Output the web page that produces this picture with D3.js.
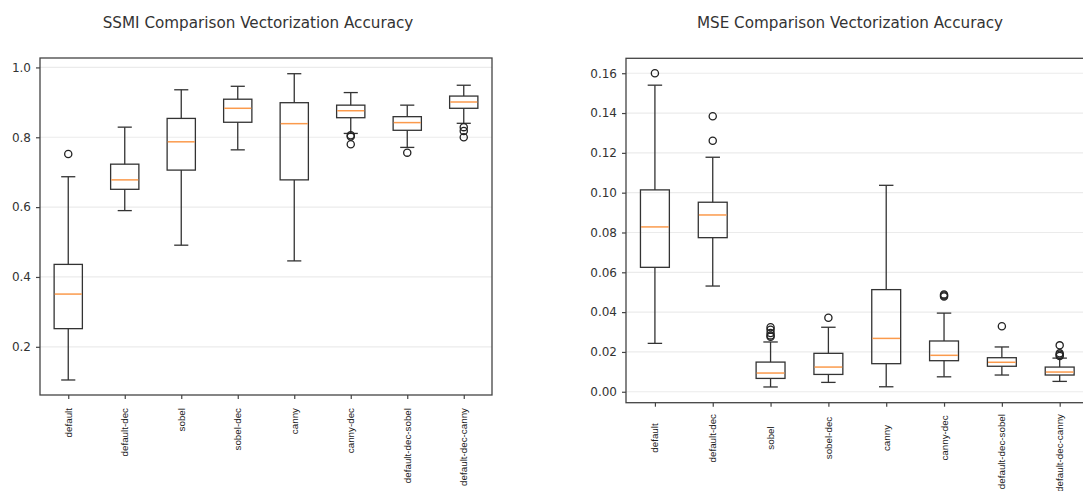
<!DOCTYPE html>
<html>
<head>
<meta charset="utf-8">
<script src="https://cdn.jsdelivr.net/npm/d3@7"></script>
<style>
  body { margin: 0; background: #fff; overflow: hidden; }
  svg { display: block; }
  .title { font-family: "DejaVu Sans", sans-serif; font-size: 15.2px; fill: #333; }
  .y-axis text { font-family: "DejaVu Sans", sans-serif; font-size: 12px; fill: #333; }
  .x-label { font-family: "Liberation Sans", Arial, sans-serif; font-size: 9.8px; fill: #222; }
</style>
</head>
<body>
<div id="chart"></div>
<script>
// Categories shared by both panels.
const categories = ['default', 'default-dec', 'sobel', 'sobel-dec', 'canny',
  'canny-dec', 'default-dec-sobel', 'default-dec-canny'];

// SSMI box stats.
const ssmiLow    = [0.105, 0.590, 0.491, 0.764, 0.446, 0.811, 0.771, 0.840];
const ssmiQ1     = [0.252, 0.651, 0.706, 0.843, 0.678, 0.856, 0.820, 0.883];
const ssmiMedian = [0.351, 0.678, 0.787, 0.883, 0.839, 0.876, 0.842, 0.901];
const ssmiQ3     = [0.436, 0.723, 0.854, 0.909, 0.899, 0.892, 0.859, 0.918];
const ssmiHigh   = [0.687, 0.829, 0.936, 0.946, 0.982, 0.928, 0.892, 0.949];
const ssmiOutliers = [[0.752], [], [], [], [], [0.806, 0.802, 0.780], [0.756], [0.829, 0.818, 0.800]];
const ssmiTicks = [0.2, 0.4, 0.6, 0.8, 1.0];

// MSE box stats.
const mseLow    = [0.0243, 0.0531, 0.0024, 0.0047, 0.0025, 0.0075, 0.0084, 0.0052];
const mseQ1     = [0.0625, 0.0774, 0.0067, 0.0087, 0.0141, 0.0156, 0.0128, 0.0084];
const mseMedian = [0.0828, 0.0888, 0.0094, 0.0124, 0.0268, 0.0183, 0.0148, 0.0099];
const mseQ3     = [0.1014, 0.0952, 0.0149, 0.0193, 0.0513, 0.0255, 0.0171, 0.0124];
const mseHigh   = [0.1540, 0.1178, 0.0250, 0.0324, 0.1037, 0.0395, 0.0225, 0.0169];
const mseOutliers = [[0.160], [0.1384, 0.1261], [0.0324, 0.0312, 0.0295, 0.0283, 0.0276], [0.0372], [],
  [0.0489, 0.0484, 0.0479], [0.0329], [0.0233, 0.0193, 0.0186, 0.0180]];
const mseTicks = [0.00, 0.02, 0.04, 0.06, 0.08, 0.10, 0.12, 0.14, 0.16];

const W = 1083, H = 491;
const svg = d3.select('#chart').append('svg').attr('width', W).attr('height', H);

function drawPanel(opt) {
  const x = d3.scaleLinear().domain([0.5, 8.5]).range([opt.left, opt.right]);
  const y = d3.scaleLinear().domain(opt.yDomain).range([opt.bottom, opt.top]);
  const g = svg.append('g');

  const boxW = x(1.25) - x(1);   // half of a 0.5 box
  const capW = boxW / 2;
  const lw = 1.3, ink = '#333';

  // Grid lines.
  g.append('g').selectAll('line').data(opt.ticks).join('line')
    .attr('x1', opt.left).attr('x2', opt.right)
    .attr('y1', d => y(d)).attr('y2', d => y(d))
    .attr('stroke', '#ebebeb').attr('stroke-width', 1.2);

  // Title.
  g.append('text').attr('class', 'title')
    .attr('x', opt.titleX).attr('y', 28)
    .attr('text-anchor', 'middle').text(opt.title);

  // Y axis.
  const yAxis = d3.axisLeft(y).tickValues(opt.ticks).tickFormat(d3.format(opt.fmt))
    .tickSize(4).tickPadding(5);
  const yg = g.append('g').attr('class', 'y-axis')
    .attr('transform', `translate(${opt.left},0)`).call(yAxis);
  yg.select('.domain').remove();
  yg.selectAll('line').attr('stroke', '#444').attr('stroke-width', 1.2);

  // X axis ticks.
  const xAxis = d3.axisBottom(x).tickValues(d3.range(1, 9)).tickFormat('').tickSize(4);
  const xg = g.append('g').attr('transform', `translate(0,${opt.bottom})`).call(xAxis);
  xg.select('.domain').remove();
  xg.selectAll('line').attr('stroke', '#444').attr('stroke-width', 1.2);

  // Frame.
  g.append('rect')
    .attr('x', opt.left).attr('y', opt.top)
    .attr('width', opt.right - opt.left).attr('height', opt.bottom - opt.top)
    .attr('fill', 'none').attr('stroke', '#444').attr('stroke-width', 1.3);

  // Rotated category labels.
  const labels = g.append('g').selectAll('text').data(categories).join('text')
    .attr('class', 'x-label')
    .text(d => d);
  labels.each(function(d, i) {
    const len = this.getComputedTextLength();
    const cx = x(i + 1) + 3.5;
    let top = opt.labelCenter ? Math.max(opt.labelTop, opt.labelCenter - len / 2) : opt.labelTop;
    d3.select(this)
      .attr('text-anchor', 'end')
      .attr('transform', `translate(${cx},${top}) rotate(-90)`);
  });

  const s = opt.stats;
  const boxes = g.append('g').selectAll('g').data(categories).join('g');

  // Whiskers.
  boxes.append('line')
    .attr('x1', (d, i) => x(i + 1)).attr('x2', (d, i) => x(i + 1))
    .attr('y1', (d, i) => y(s.q3[i])).attr('y2', (d, i) => y(s.high[i]))
    .attr('stroke', ink).attr('stroke-width', lw);
  boxes.append('line')
    .attr('x1', (d, i) => x(i + 1)).attr('x2', (d, i) => x(i + 1))
    .attr('y1', (d, i) => y(s.q1[i])).attr('y2', (d, i) => y(s.low[i]))
    .attr('stroke', ink).attr('stroke-width', lw);
  // Caps.
  ['high', 'low'].forEach(k => {
    boxes.append('line')
      .attr('x1', (d, i) => x(i + 1) - capW).attr('x2', (d, i) => x(i + 1) + capW)
      .attr('y1', (d, i) => y(s[k][i])).attr('y2', (d, i) => y(s[k][i]))
      .attr('stroke', ink).attr('stroke-width', lw);
  });
  // Box.
  boxes.append('rect')
    .attr('x', (d, i) => x(i + 1) - boxW).attr('width', boxW * 2)
    .attr('y', (d, i) => y(s.q3[i]))
    .attr('height', (d, i) => y(s.q1[i]) - y(s.q3[i]))
    .attr('fill', 'none').attr('stroke', ink).attr('stroke-width', lw);
  // Median.
  boxes.append('line')
    .attr('x1', (d, i) => x(i + 1) - boxW + 0.6).attr('x2', (d, i) => x(i + 1) + boxW - 0.6)
    .attr('y1', (d, i) => y(s.median[i])).attr('y2', (d, i) => y(s.median[i]))
    .attr('stroke', '#fb9a4c').attr('stroke-width', 1.5);
  // Outliers.
  boxes.each(function(d, i) {
    d3.select(this).selectAll('circle').data(s.outliers[i]).join('circle')
      .attr('cx', x(i + 1)).attr('cy', v => y(v)).attr('r', 3.6)
      .attr('fill', 'none').attr('stroke', '#222').attr('stroke-width', 1.3);
  });
}

drawPanel({
  title: 'SSMI Comparison Vectorization Accuracy', titleX: 258,
  left: 40, right: 492, top: 58, bottom: 395,
  yDomain: [0.062, 1.027], ticks: ssmiTicks, fmt: '.1f',
  labelTop: 408,
  stats: { low: ssmiLow, q1: ssmiQ1, median: ssmiMedian, q3: ssmiQ3, high: ssmiHigh, outliers: ssmiOutliers }
});

drawPanel({
  title: 'MSE Comparison Vectorization Accuracy', titleX: 850,
  left: 626, right: 1088.6, top: 58.3, bottom: 402.7,
  yDomain: [-0.0055, 0.1675], ticks: mseTicks, fmt: '.2f',
  labelTop: 414, labelCenter: 438,
  stats: { low: mseLow, q1: mseQ1, median: mseMedian, q3: mseQ3, high: mseHigh, outliers: mseOutliers }
});
</script>
</body>
</html>
